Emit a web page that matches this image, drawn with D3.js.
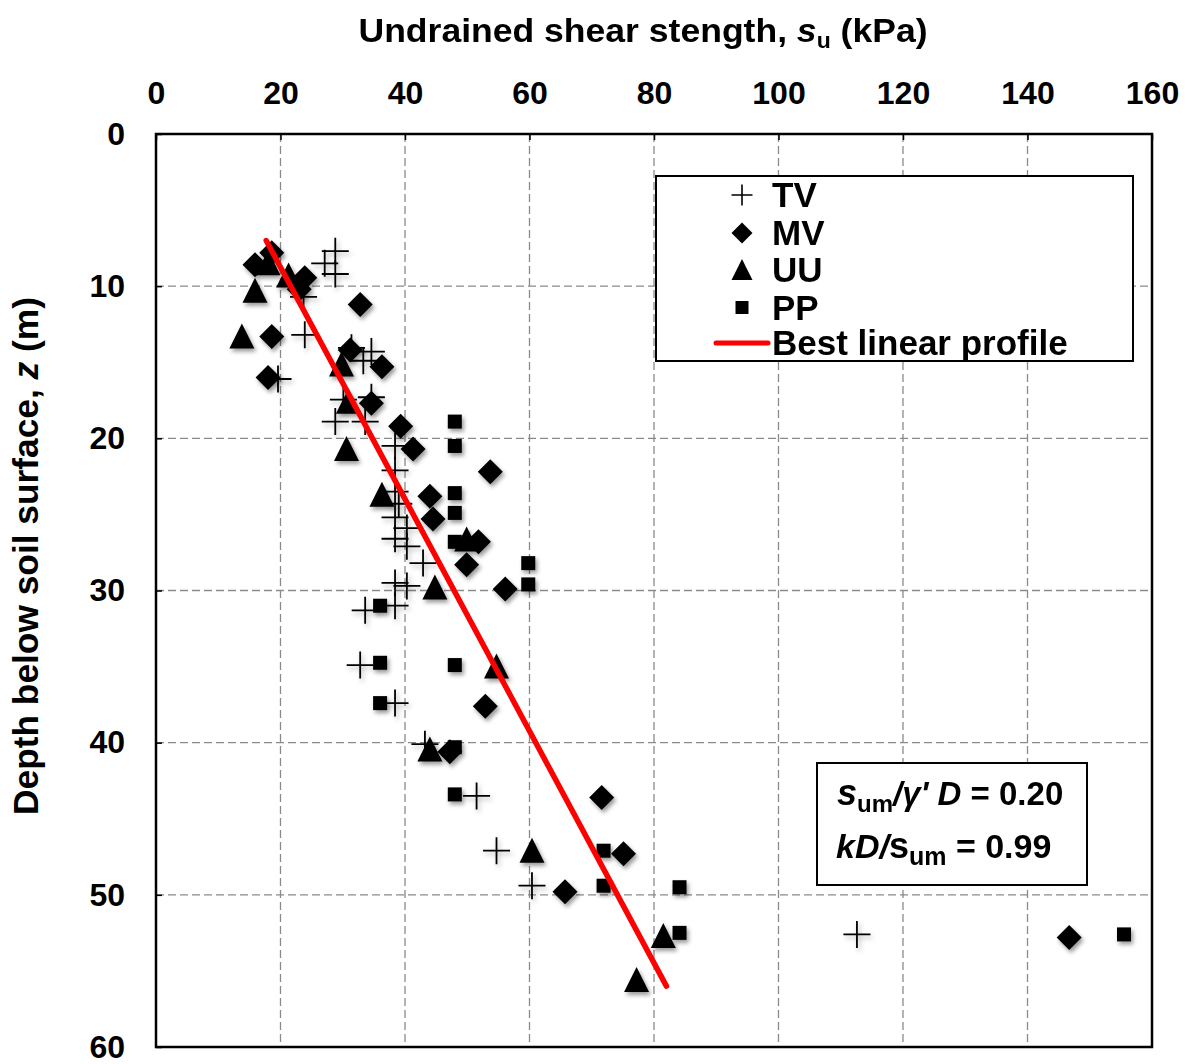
<!DOCTYPE html>
<html><head><meta charset="utf-8">
<script src="https://cdn.jsdelivr.net/npm/d3@7"></script>
<style>
body{margin:0;background:#fff}
text{font-family:"Liberation Sans",Arial,sans-serif;font-weight:bold;fill:#000}
</style>
</head><body>
<svg id="c" width="1193" height="1064"></svg>
<script>
// ---- data (s_u in kPa, z in m) ----
const xTicks = [0, 20, 40, 60, 80, 100, 120, 140, 160];
const yTicks = [0, 10, 20, 30, 40, 50, 60];

const tvData = [
  [28.8, 7.7], [27.1, 8.5], [28.8, 9.2], [23.7, 10.7], [23.9, 13.2], [19.6, 16.1],
  [31.4, 14.05], [34.6, 14.3], [33.3, 14.9], [30.1, 17.45], [34.6, 17.3], [28.8, 18.9],
  [33.6, 18.9], [38.4, 20.5], [38.4, 22.1], [38.4, 23.5], [39.0, 24.3], [38.4, 25.2],
  [40.3, 25.9], [38.4, 26.6], [40.3, 27.1], [42.9, 28.2], [38.4, 29.5], [40.3, 29.7],
  [38.4, 31.0], [33.6, 31.3], [32.8, 34.9], [38.4, 37.4], [43.2, 40.1], [51.5, 43.5],
  [54.7, 47.1], [60.4, 49.4], [112.6, 52.6]
];
const mvData = [
  [15.9, 8.6], [18.6, 7.8], [23.9, 9.45], [23.0, 10.2], [32.8, 11.2], [18.6, 13.3],
  [18.0, 16.0], [31.2, 14.2], [36.3, 15.3], [34.6, 17.7], [39.3, 19.2], [41.3, 20.7],
  [53.7, 22.2], [44.0, 23.8], [44.5, 25.3], [51.8, 26.8], [49.9, 28.3], [56.1, 29.9],
  [52.9, 37.6], [47.2, 40.6], [71.6, 43.6], [75.1, 47.3], [65.7, 49.8], [146.7, 52.8]
];
const uuData = [
  [18.0, 8.5], [15.9, 10.3], [21.3, 9.3], [13.8, 13.3], [29.8, 15.15], [30.9, 17.6],
  [30.6, 20.7], [36.3, 23.7], [49.9, 26.65], [44.8, 29.8], [54.7, 35.0], [44.0, 40.45],
  [60.4, 47.1], [81.5, 52.7], [77.2, 55.6]
];
const ppData = [
  [48.0, 18.9], [48.0, 20.5], [48.0, 23.6], [48.0, 24.9], [48.0, 26.8], [59.8, 28.2],
  [59.8, 29.6], [36.0, 31.0], [36.0, 34.75], [48.0, 34.9], [36.0, 37.4], [48.0, 40.3],
  [48.0, 43.4], [71.9, 47.1], [71.9, 49.4], [84.1, 49.5], [84.1, 52.5], [155.5, 52.6]
];
const bestLine = [[17.7, 7.0], [82.0, 56.0]];
const legendLabels = ["TV", "MV", "UU", "PP", "Best linear profile"];

// ---- layout ----
const svg = d3.select("#c");
const L = 156, R = 1152, T = 134, B = 1047;
const x = d3.scaleLinear().domain([0, 160]).range([L, R]);
const y = d3.scaleLinear().domain([0, 60]).range([T, B]);

const defs = svg.append("defs");
const f = defs.append("filter").attr("id", "sh").attr("x", "-60%").attr("y", "-60%").attr("width", "220%").attr("height", "220%");
f.append("feDropShadow").attr("dx", 2).attr("dy", 3).attr("stdDeviation", 2)
  .attr("flood-color", "#000").attr("flood-opacity", 0.4);
const f2 = defs.append("filter").attr("id", "sh2").attr("x", "-60%").attr("y", "-60%").attr("width", "220%").attr("height", "220%");
f2.append("feDropShadow").attr("dx", 2).attr("dy", 3).attr("stdDeviation", 2.5)
  .attr("flood-color", "#000").attr("flood-opacity", 0.3);

// custom symbol types
const plusType = { draw(ctx, size) { const r = Math.sqrt(size) / 2; ctx.moveTo(-r, 0); ctx.lineTo(r, 0); ctx.moveTo(0, -r); ctx.lineTo(0, r); } };
const triType = { draw(ctx, size) { const w = Math.sqrt(size); ctx.moveTo(0, -w * 0.52); ctx.lineTo(w / 2, w * 0.48); ctx.lineTo(-w / 2, w * 0.48); ctx.closePath(); } };
const diamondType = { draw(ctx, size) { const r = Math.sqrt(size) / 2; ctx.moveTo(0, -r); ctx.lineTo(r, 0); ctx.lineTo(0, r); ctx.lineTo(-r, 0); ctx.closePath(); } };

// gridlines
const grid = svg.append("g").attr("stroke", "#8a8a8a").attr("stroke-width", 1.3).attr("stroke-dasharray", "8,4");
grid.selectAll("line.v").data(xTicks.slice(1, -1)).join("line")
  .attr("x1", d => x(d)).attr("x2", d => x(d)).attr("y1", T).attr("y2", B);
grid.selectAll("line.h").data(yTicks.slice(1, -1)).join("line")
  .attr("x1", L).attr("x2", R).attr("y1", d => y(d)).attr("y2", d => y(d));

// axes
const xAxis = d3.axisTop(x).tickValues(xTicks).tickSizeInner(-6).tickSizeOuter(0).tickPadding(30);
const gx = svg.append("g").attr("transform", `translate(0,${T})`).call(xAxis);
const yAxis = d3.axisLeft(y).tickValues(yTicks).tickSizeInner(-6).tickSizeOuter(0).tickPadding(31);
const gy = svg.append("g").attr("transform", `translate(${L},0)`).call(yAxis);
[gx, gy].forEach(g => {
  g.select(".domain").remove();
  g.selectAll(".tick line").attr("stroke", "#000").attr("stroke-width", 1.5);
  g.selectAll(".tick text").attr("font-size", 32).attr("font-family", "Liberation Sans, Arial, sans-serif").attr("font-weight", "bold").attr("fill", "#000");
});

// markers
const mkp = svg.append("g").attr("filter", "url(#sh2)");
mkp.selectAll("path.tv").data(tvData).join("path").attr("class", "tv")
  .attr("d", d3.symbol().type(plusType).size(27 * 27)())
  .attr("transform", d => `translate(${x(d[0])},${y(d[1])})`)
  .attr("fill", "none").attr("stroke", "#000").attr("stroke-width", 1.8);
const mk = svg.append("g").attr("filter", "url(#sh)");
mk.selectAll("path.pp").data(ppData).join("path").attr("class", "pp")
  .attr("d", d3.symbol().type(d3.symbolSquare).size(14 * 14)())
  .attr("transform", d => `translate(${x(d[0])},${y(d[1])})`).attr("fill", "#000");
mk.selectAll("path.uu").data(uuData).join("path").attr("class", "uu")
  .attr("d", d3.symbol().type(triType).size(25 * 25)())
  .attr("transform", d => `translate(${x(d[0])},${y(d[1])})`).attr("fill", "#000");
mk.selectAll("path.mv").data(mvData).join("path").attr("class", "mv")
  .attr("d", d3.symbol().type(diamondType).size(25 * 25)())
  .attr("transform", d => `translate(${x(d[0])},${y(d[1])})`).attr("fill", "#000");

// best line
svg.append("path").datum(bestLine)
  .attr("d", d3.line().x(d => x(d[0])).y(d => y(d[1])))
  .attr("stroke", "#ff0000").attr("stroke-width", 5.5).attr("stroke-linecap", "round").attr("fill", "none");

// frame
svg.append("rect").attr("x", L).attr("y", T).attr("width", R - L).attr("height", B - T)
  .attr("fill", "none").attr("stroke", "#000").attr("stroke-width", 2.5);

// titles
const t = svg.append("text").attr("x", 643).attr("y", 42).attr("text-anchor", "middle").attr("font-size", 34)
  .attr("textLength", 569).attr("lengthAdjust", "spacingAndGlyphs");
t.append("tspan").text("Undrained shear stength, ");
t.append("tspan").attr("font-style", "italic").text("s");
t.append("tspan").attr("font-size", 22).attr("dy", 6).text("u");
t.append("tspan").attr("dy", -6).text(" (kPa)");

const yl = svg.append("text").attr("transform", "translate(38,556) rotate(-90)").attr("text-anchor", "middle")
  .attr("font-size", 35).attr("textLength", 518).attr("lengthAdjust", "spacingAndGlyphs");
yl.append("tspan").text("Depth below soil surface, ");
yl.append("tspan").attr("font-style", "italic").text("z");
yl.append("tspan").text(" (m)");

// legend
const lg = svg.append("g");
lg.append("rect").attr("x", 656).attr("y", 176).attr("width", 477).attr("height", 185)
  .attr("fill", "#fff").attr("stroke", "#000").attr("stroke-width", 2);
const rowY = [195, 233, 270, 307.5, 343];
const legSyms = [
  d3.symbol().type(plusType).size(21 * 21)(),
  d3.symbol().type(diamondType).size(21 * 21)(),
  d3.symbol().type(triType).size(21 * 21)(),
  d3.symbol().type(d3.symbolSquare).size(13 * 13)()
];
legSyms.forEach((p, i) => {
  const s = lg.append("path").attr("d", p).attr("transform", `translate(742,${rowY[i]})`);
  if (i === 0) s.attr("fill", "none").attr("stroke", "#000").attr("stroke-width", 1.6);
  else s.attr("fill", "#000");
});
lg.append("line").attr("x1", 716).attr("x2", 768).attr("y1", rowY[4]).attr("y2", rowY[4])
  .attr("stroke", "#ff0000").attr("stroke-width", 5).attr("stroke-linecap", "round");
lg.selectAll("text").data(legendLabels).join("text")
  .attr("x", 772).attr("y", (d, i) => rowY[i] + 12).attr("font-size", 35).text(d => d);

// annotation
const an = svg.append("g");
an.append("rect").attr("x", 817).attr("y", 763).attr("width", 270).attr("height", 122)
  .attr("fill", "#fff").attr("stroke", "#000").attr("stroke-width", 2);
const a1 = an.append("text").attr("x", 837).attr("y", 805).attr("font-size", 33);
a1.append("tspan").attr("font-style", "italic").attr("font-size", 36).text("s");
a1.append("tspan").attr("font-size", 24).attr("dy", 7).text("um");
a1.append("tspan").attr("dy", -7).attr("font-style", "italic").text("/γ' D");
a1.append("tspan").text(" = 0.20");
const a2 = an.append("text").attr("x", 836).attr("y", 858).attr("font-size", 34);
a2.append("tspan").attr("font-style", "italic").text("kD/");
a2.append("tspan").attr("font-size", 36).text("s");
a2.append("tspan").attr("font-size", 25).attr("dy", 7).text("um");
a2.append("tspan").attr("dy", -7).text(" = 0.99");
</script>
</body></html>
